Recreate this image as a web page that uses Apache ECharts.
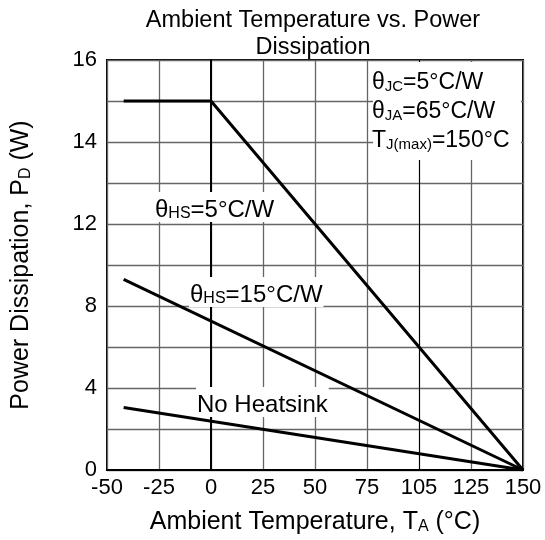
<!DOCTYPE html>
<html>
<head>
<meta charset="utf-8">
<script src="https://cdn.jsdelivr.net/npm/echarts@6/dist/echarts.min.js"></script>
<style>html,body{margin:0;padding:0;background:#fff}#c{width:545px;height:540px}</style>
</head>
<body>
<div id="c"></div>
<script>
// ---- data ----
const xTicks = [-50, -25, 0, 25, 50, 75, 100, 125, 150];
const xTickLabels = ['-50', '-25', '0', '25', '50', '75', '105', '125', '150'];
// horizontal grid lines of the original (non-uniform scale), in W
const yGridValues = [0, 2, 4, 6, 8, 10, 12, 13, 14, 15, 16];
const yTickLabels = ['0', '', '4', '', '8', '', '12', '', '14', '', '16'];

const hs5Temp = [-42, 0, 150];
const hs5Power = [15, 15, 0];
const hs15Temp = [-42, 150];
const hs15Power = [9.3, 0];
const noHsTemp = [-42, 150];
const noHsPower = [3.05, 0];

// map a power value (W) onto the grid-line index of the original's non-uniform axis
function powerToAxis(w) {
  for (let i = 0; i < yGridValues.length - 1; i++) {
    const a = yGridValues[i], b = yGridValues[i + 1];
    if (w <= b) return i + (w - a) / (b - a);
  }
  return yGridValues.length - 1;
}
function pts(xs, ys) { return xs.map((x, i) => [x, powerToAxis(ys[i])]); }

const FONT = "'Liberation Sans', Arial, sans-serif";
const sub = (fs, r) => ({
  n: { fontSize: fs, fontFamily: FONT, color: '#000', lineHeight: fs + 6, verticalAlign: 'bottom' },
  s: { fontSize: Math.round(fs * (r || 0.66)), fontFamily: FONT, color: '#000', lineHeight: Math.round(fs * 0.8), verticalAlign: 'bottom' }
});

const chart = echarts.init(document.getElementById('c'));
const lineStyle = { color: '#000', width: 3 };

function textEl(x, y, text, fs, bg) {
  return {
    type: 'text', x: x, y: y, z: 100,
    style: {
      text: text, fontSize: fs, fontFamily: FONT, fill: '#000',
      rich: sub(fs),
      backgroundColor: bg ? '#fff' : null,
      padding: bg ? [0, 1, 0, 1] : 0,
      align: 'left', verticalAlign: 'top', textAlign: 'left', textVerticalAlign: 'top'
    }
  };
}

chart.setOption({
  animation: false,
  backgroundColor: '#fff',
  grid: { left: 107, right: 22, top: 60, bottom: 68, show: true, borderColor: '#000', borderWidth: 2, backgroundColor: 'transparent' },
  xAxis: {
    type: 'value', min: -50, max: 150, interval: 25,
    axisLine: { show: true, onZero: false, lineStyle: { color: '#000', width: 2 } },
    axisTick: { show: false },
    axisLabel: {
      margin: 7, fontSize: 22, fontFamily: FONT, color: '#000',
      formatter: (v) => { const i = xTicks.indexOf(v); return i >= 0 ? xTickLabels[i] : ''; }
    },
    splitLine: { show: true, lineStyle: { color: '#666', width: 1.3 } },
    name: '{n|Ambient Temperature, T}{s|A}{n| (°C)}',
    nameLocation: 'middle', nameGap: 34,
    nameTextStyle: { fontSize: 25, fontFamily: FONT, color: '#000', rich: sub(25, 0.64) }
  },
  yAxis: {
    type: 'value', min: 0, max: yGridValues.length - 1, interval: 1,
    axisLine: { show: true, lineStyle: { color: '#000', width: 2 } },
    axisTick: { show: false },
    axisLabel: {
      margin: 10, fontSize: 22, fontFamily: FONT, color: '#000',
      formatter: (v) => yTickLabels[Math.round(v)] || ''
    },
    splitLine: { show: true, lineStyle: { color: '#666', width: 1.3 } },
    name: '{n|Power Dissipation, P}{s|D}{n| (W)}',
    nameLocation: 'middle', nameGap: 73, nameRotate: 90,
    nameTextStyle: { fontSize: 25, fontFamily: FONT, color: '#000', rich: sub(25, 0.64) }
  },
  series: [
    {
      type: 'line', name: 'θHS=5°C/W', data: pts(hs5Temp, hs5Power), symbol: 'none', lineStyle: lineStyle, z: 5,
      markLine: {
        silent: true, symbol: 'none', label: { show: false },
        lineStyle: { color: '#000', width: 1, type: 'solid' },
        data: [{ xAxis: 0 }, { xAxis: 100 }]
      }
    },
    { type: 'line', name: 'θHS=15°C/W', data: pts(hs15Temp, hs15Power), symbol: 'none', lineStyle: lineStyle, z: 5 },
    { type: 'line', name: 'No Heatsink', data: pts(noHsTemp, noHsPower), symbol: 'none', lineStyle: lineStyle, z: 5 }
  ],
  graphic: [
    {
      type: 'text', x: 313, y: 7, z: 100,
      style: {
        text: 'Ambient Temperature vs. Power\nDissipation', fontSize: 23.5, lineHeight: 27, fontFamily: FONT, fill: '#000',
        align: 'center', verticalAlign: 'top', textAlign: 'center', textVerticalAlign: 'top'
      }
    },
    { type: 'rect', z: 90, shape: { x: 373, y: 62, width: 148, height: 98 }, style: { fill: '#fff' } },
    textEl(372, 65, '{n|θ}{s|JC}{n|=5°C/W}', 23, false),
    textEl(372, 94, '{n|θ}{s|JA}{n|=65°C/W}', 23, false),
    textEl(372, 123, '{n|T}{s|J(max)}{n|=150°C}', 23, false),
    textEl(154, 192, '{n|θ}{s|HS}{n|=5°C/W}', 24, true),
    textEl(189, 277, '{n|θ}{s|HS}{n|=15°C/W}', 24, true),
    textEl(196, 387, '{n|No Heatsink}', 24, true)
  ]
});
</script>
</body>
</html>
